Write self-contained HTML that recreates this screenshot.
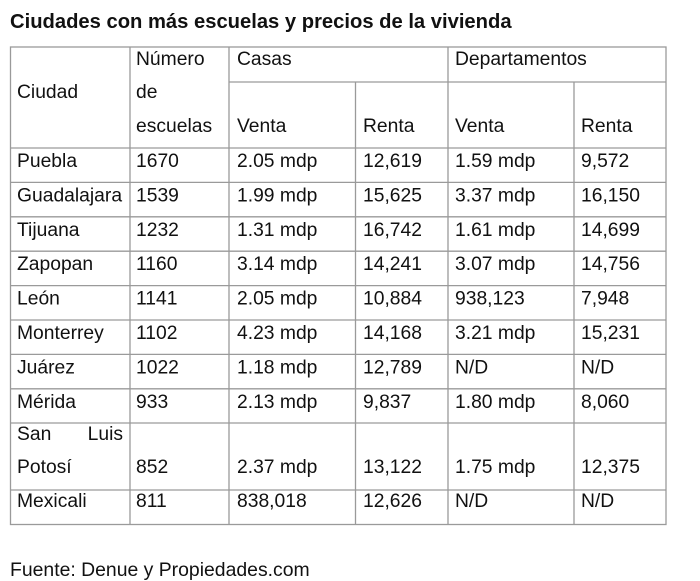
<!DOCTYPE html>
<html><head><meta charset="utf-8"><style>
html,body{margin:0;padding:0;background:#fff;width:700px;height:581px;overflow:hidden}
svg{display:block}
text{font-family:"Liberation Sans",Arial,sans-serif;font-size:19.3px;fill:#111}
</style></head><body>
<svg width="700" height="581" viewBox="0 0 700 581">
<text x="10" y="28" style="font-weight:bold;font-size:20.2px">Ciudades con más escuelas y precios de la vivienda</text>
<g stroke="#9a9a9a" stroke-width="1.3" fill="none">
<rect x="10.5" y="47" width="655.5" height="477.5"/>
<line x1="130" y1="47" x2="130" y2="524.5"/>
<line x1="229" y1="47" x2="229" y2="524.5"/>
<line x1="355.5" y1="82" x2="355.5" y2="524.5"/>
<line x1="448" y1="47" x2="448" y2="524.5"/>
<line x1="574" y1="82" x2="574" y2="524.5"/>
<line x1="229" y1="82" x2="666" y2="82"/>
<line x1="10" y1="148" x2="666" y2="148"/>
<line x1="10" y1="182.4" x2="666" y2="182.4"/>
<line x1="10" y1="216.8" x2="666" y2="216.8"/>
<line x1="10" y1="251.2" x2="666" y2="251.2"/>
<line x1="10" y1="285.6" x2="666" y2="285.6"/>
<line x1="10" y1="320" x2="666" y2="320"/>
<line x1="10" y1="354.4" x2="666" y2="354.4"/>
<line x1="10" y1="388.8" x2="666" y2="388.8"/>
<line x1="10" y1="423" x2="666" y2="423"/>
<line x1="10" y1="490" x2="666" y2="490"/>
</g>
<text x="17" y="98">Ciudad</text>
<text x="136" y="65">Número</text>
<text x="136" y="98">de</text>
<text x="136" y="132">escuelas</text>
<text x="237" y="65">Casas</text>
<text x="455" y="65">Departamentos</text>
<text x="237" y="132">Venta</text>
<text x="363" y="132">Renta</text>
<text x="455" y="132">Venta</text>
<text x="581" y="132">Renta</text>
<g>
<text x="17" y="167">Puebla</text><text x="136" y="167">1670</text><text x="237" y="167">2.05 mdp</text><text x="363" y="167">12,619</text><text x="455" y="167">1.59 mdp</text><text x="581" y="167">9,572</text>
<text x="17" y="201.4">Guadalajara</text><text x="136" y="201.4">1539</text><text x="237" y="201.4">1.99 mdp</text><text x="363" y="201.4">15,625</text><text x="455" y="201.4">3.37 mdp</text><text x="581" y="201.4">16,150</text>
<text x="17" y="235.8">Tijuana</text><text x="136" y="235.8">1232</text><text x="237" y="235.8">1.31 mdp</text><text x="363" y="235.8">16,742</text><text x="455" y="235.8">1.61 mdp</text><text x="581" y="235.8">14,699</text>
<text x="17" y="270.2">Zapopan</text><text x="136" y="270.2">1160</text><text x="237" y="270.2">3.14 mdp</text><text x="363" y="270.2">14,241</text><text x="455" y="270.2">3.07 mdp</text><text x="581" y="270.2">14,756</text>
<text x="17" y="304.6">León</text><text x="136" y="304.6">1141</text><text x="237" y="304.6">2.05 mdp</text><text x="363" y="304.6">10,884</text><text x="455" y="304.6">938,123</text><text x="581" y="304.6">7,948</text>
<text x="17" y="339">Monterrey</text><text x="136" y="339">1102</text><text x="237" y="339">4.23 mdp</text><text x="363" y="339">14,168</text><text x="455" y="339">3.21 mdp</text><text x="581" y="339">15,231</text>
<text x="17" y="373.4">Juárez</text><text x="136" y="373.4">1022</text><text x="237" y="373.4">1.18 mdp</text><text x="363" y="373.4">12,789</text><text x="455" y="373.4">N/D</text><text x="581" y="373.4">N/D</text>
<text x="17" y="407.8">Mérida</text><text x="136" y="407.8">933</text><text x="237" y="407.8">2.13 mdp</text><text x="363" y="407.8">9,837</text><text x="455" y="407.8">1.80 mdp</text><text x="581" y="407.8">8,060</text>
<text x="17" y="440">San</text><text x="123" y="440" text-anchor="end">Luis</text>
<text x="17" y="473">Potosí</text><text x="136" y="473">852</text><text x="237" y="473">2.37 mdp</text><text x="363" y="473">13,122</text><text x="455" y="473">1.75 mdp</text><text x="581" y="473">12,375</text>
<text x="17" y="507">Mexicali</text><text x="136" y="507">811</text><text x="237" y="507">838,018</text><text x="363" y="507">12,626</text><text x="455" y="507">N/D</text><text x="581" y="507">N/D</text>
</g>
<text x="10" y="576" style="font-size:19.4px">Fuente: Denue y Propiedades.com</text>
</svg>
</body></html>
